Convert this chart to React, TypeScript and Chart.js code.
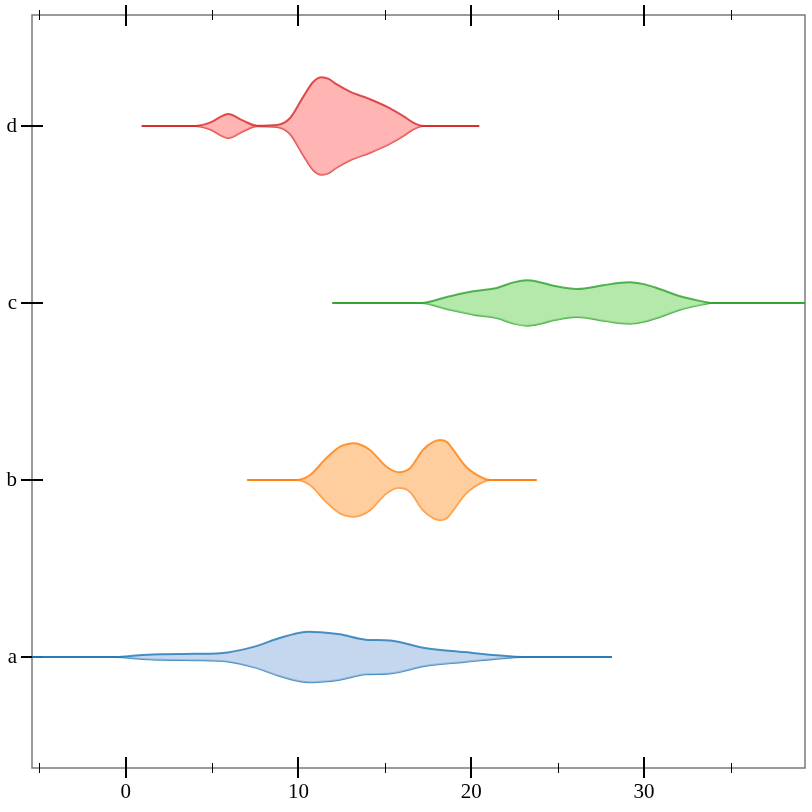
import React, { useEffect, useRef } from "react";
import { Chart, registerables } from "chart.js";

Chart.register(...registerables);

// ---- data ----
const CATEGORIES = ["a", "b", "c", "d"];
const X_MIN = -5.42;
const X_MAX = 39.31;
const Y_MIN = -0.627;
const Y_MAX = 3.627;
const MAJOR_TICKS = [0, 10, 20, 30];
const MINOR_TICKS = [-5, 5, 15, 25, 35];

// violin outlines: x positions and half-widths (in category units)
const A_X = [-6, -0.6, 0.8, 2.0, 4.0, 5.9, 7.5, 8.9, 10.0, 10.6, 11.3, 12.4, 13.9, 15.3, 17.3, 19.6, 21.5, 23.0, 28.14];
const A_W = [0, 0, 0.01, 0.016, 0.018, 0.026, 0.06, 0.107, 0.136, 0.143, 0.14, 0.128, 0.098, 0.093, 0.051, 0.028, 0.01, 0, 0];

const B_X = [7.03, 9.9, 10.67, 11.6, 12.4, 12.8, 13.17, 13.6, 14.14, 15.1, 15.8, 16.45, 17.2, 17.8, 18.19, 18.6, 18.96, 19.7, 20.7, 21.1, 23.78];
const B_W = [0, 0, 0.028, 0.123, 0.188, 0.202, 0.207, 0.199, 0.17, 0.075, 0.044, 0.066, 0.17, 0.215, 0.226, 0.214, 0.17, 0.075, 0.01, 0, 0];

const C_X = [11.96, 17.1, 18.58, 20.12, 21.47, 22.5, 23.2, 23.9, 24.75, 26.1, 27.64, 28.5, 29.18, 29.9, 30.73, 32.08, 33.6, 33.8, 40];
const C_W = [0, 0, 0.034, 0.066, 0.085, 0.118, 0.128, 0.119, 0.098, 0.079, 0.1, 0.113, 0.117, 0.108, 0.085, 0.038, 0.004, 0, 0];

const D_X = [0.93, 4.0, 4.88, 5.94, 6.8, 7.58, 8.74, 9.5, 10.28, 10.86, 11.34, 11.75, 12.2, 12.98, 14.14, 15.3, 16.07, 16.64, 17.22, 20.46];
const D_W = [0, 0, 0.019, 0.068, 0.03, 0.002, 0.006, 0.044, 0.166, 0.25, 0.275, 0.266, 0.236, 0.194, 0.151, 0.1, 0.056, 0.019, 0, 0];

const VIOLIN_X = [A_X, B_X, C_X, D_X];
const VIOLIN_W = [A_W, B_W, C_W, D_W];
const LINE_COLORS = [
  "rgba(31,119,180,0.8)",
  "rgba(255,127,14,0.8)",
  "rgba(44,160,44,0.8)",
  "rgba(214,39,40,0.8)",
];
const FILL_COLORS = [
  "rgba(174,199,232,0.72)",
  "rgba(255,187,120,0.72)",
  "rgba(152,223,138,0.72)",
  "rgba(255,152,150,0.72)",
];

const FONT = { family: "'Liberation Serif', 'Times New Roman', serif", size: 21 };

const framePlugin = {
  id: "frameTicks",
  beforeDatasetsDraw(chart: any) {
    const { ctx, chartArea } = chart;
    const { left, right, top, bottom } = chartArea;
    const xs = chart.scales.x;
    const ys = chart.scales.y;
    ctx.save();
    ctx.strokeStyle = "#7a7a7a";
    ctx.lineWidth = 1.5;
    ctx.strokeRect(left, top, right - left, bottom - top);
    ctx.strokeStyle = "#000";
    // major x ticks (top and bottom)
    ctx.lineWidth = 2;
    MAJOR_TICKS.forEach((v) => {
      const px = Math.round(xs.getPixelForValue(v));
      ctx.beginPath();
      ctx.moveTo(px, bottom - 11);
      ctx.lineTo(px, bottom + 10);
      ctx.moveTo(px, top - 10);
      ctx.lineTo(px, top + 11);
      ctx.stroke();
    });
    ctx.lineWidth = 1;
    MINOR_TICKS.forEach((v) => {
      const px = Math.round(xs.getPixelForValue(v)) + 0.5;
      ctx.beginPath();
      ctx.moveTo(px, bottom - 5);
      ctx.lineTo(px, bottom + 5);
      ctx.moveTo(px, top - 5);
      ctx.lineTo(px, top + 5);
      ctx.stroke();
    });
    ctx.lineWidth = 2;
    CATEGORIES.forEach((_, i) => {
      const py = Math.round(ys.getPixelForValue(i));
      ctx.beginPath();
      ctx.moveTo(left - 11, py);
      ctx.lineTo(left + 11, py);
      ctx.stroke();
    });
    ctx.restore();
  },
};

export default function App() {
  const ref = useRef<HTMLCanvasElement | null>(null);
  useEffect(() => {
    document.body.style.margin = "0";
    const canvas = ref.current;
    if (!canvas) return;
    const datasets: any[] = [];
    CATEGORIES.forEach((_, i) => {
      const xs = VIOLIN_X[i];
      const ws = VIOLIN_W[i];
      datasets.push({
        data: xs.map((x, k) => ({ x, y: i + ws[k] })),
        borderColor: LINE_COLORS[i],
        backgroundColor: FILL_COLORS[i],
        borderWidth: 2,
        pointRadius: 0,
        cubicInterpolationMode: "monotone",
        fill: "+1",
      });
      datasets.push({
        data: xs.map((x, k) => ({ x, y: i - ws[k] })),
        borderColor: LINE_COLORS[i],
        backgroundColor: FILL_COLORS[i],
        borderWidth: 2,
        pointRadius: 0,
        cubicInterpolationMode: "monotone",
        fill: false,
      });
    });
    const chart = new Chart(canvas, {
      type: "line",
      data: { datasets },
      options: {
        responsive: false,
        animation: false,
        layout: { padding: { top: 15, right: 7, left: 0, bottom: 0 } },
        plugins: { legend: { display: false }, tooltip: { enabled: false } },
        scales: {
          x: {
            type: "linear",
            min: X_MIN,
            max: X_MAX,
            afterBuildTicks: (s: any) => {
              s.ticks = MAJOR_TICKS.map((v) => ({ value: v }));
            },
            afterFit: (s: any) => {
              s.height = 44;
              s.paddingLeft = 0;
              s.paddingRight = 0;
            },
            grid: { display: false, drawTicks: false },
            border: { display: false },
            ticks: { color: "#000", font: FONT, padding: 12, maxRotation: 0, autoSkip: false },
          },
          y: {
            type: "linear",
            min: Y_MIN,
            max: Y_MAX,
            afterBuildTicks: (s: any) => {
              s.ticks = CATEGORIES.map((_, i) => ({ value: i }));
            },
            afterFit: (s: any) => {
              s.width = 32;
              s.paddingTop = 0;
              s.paddingBottom = 0;
            },
            grid: { display: false, drawTicks: false },
            border: { display: false },
            ticks: {
              color: "#000",
              font: FONT,
              padding: 15,
              autoSkip: false,
              callback: (v: any) => CATEGORIES[Math.round(Number(v))] ?? "",
            },
          },
        },
      },
      plugins: [framePlugin],
    });
    return () => chart.destroy();
  }, []);
  return (
    <div style={{ position: "absolute", left: 0, top: 0, width: 812, height: 812 }}>
      <canvas ref={ref} width={812} height={812} />
    </div>
  );
}
